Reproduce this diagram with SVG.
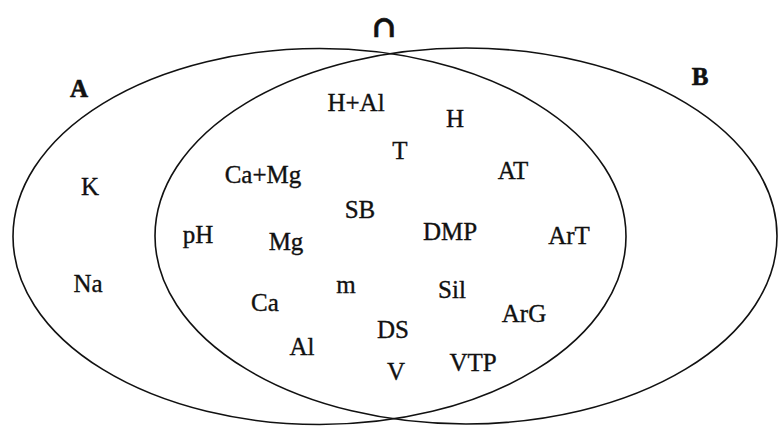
<svg xmlns="http://www.w3.org/2000/svg" width="778" height="426" viewBox="0 0 778 426">
<style>
.set{fill:none;stroke:#111;stroke-width:1.6}
.t{font-family:"Liberation Serif","Times New Roman",serif;font-size:25px;fill:#111;stroke:#111;stroke-width:0.35;text-anchor:middle}
.b{font-weight:bold;stroke-width:0.6}
.cap{font-family:"DejaVu Serif","Liberation Serif",serif;font-size:30px}
</style>
<rect width="778" height="426" fill="#fff"/>
<g id="setA"><ellipse class="set" cx="319.5" cy="236.5" rx="306.5" ry="188"/><text class="t b" x="79" y="97">A</text></g>
<g id="setB"><ellipse class="set" cx="466" cy="236" rx="311" ry="188"/><text class="t b" x="700" y="85">B</text></g>
<g id="intersection"><text class="t b cap" x="384" y="37">∩</text></g>
<g id="labels">
<text class="t" x="90" y="195">K</text>
<text class="t" x="88" y="292">Na</text>
<text class="t" x="356" y="111">H+Al</text>
<text class="t" x="455" y="127">H</text>
<text class="t" x="400" y="159">T</text>
<text class="t" x="513" y="179">AT</text>
<text class="t" x="263" y="183">Ca+Mg</text>
<text class="t" x="360" y="218">SB</text>
<text class="t" x="450" y="240">DMP</text>
<text class="t" x="569" y="244">ArT</text>
<text class="t" x="198" y="243">pH</text>
<text class="t" x="286" y="250">Mg</text>
<text class="t" x="346" y="293">m</text>
<text class="t" x="452" y="298">Sil</text>
<text class="t" x="265" y="311">Ca</text>
<text class="t" x="524" y="322">ArG</text>
<text class="t" x="393" y="338">DS</text>
<text class="t" x="302" y="355">Al</text>
<text class="t" x="473" y="371">VTP</text>
<text class="t" x="396" y="380">V</text>
</g>
</svg>
